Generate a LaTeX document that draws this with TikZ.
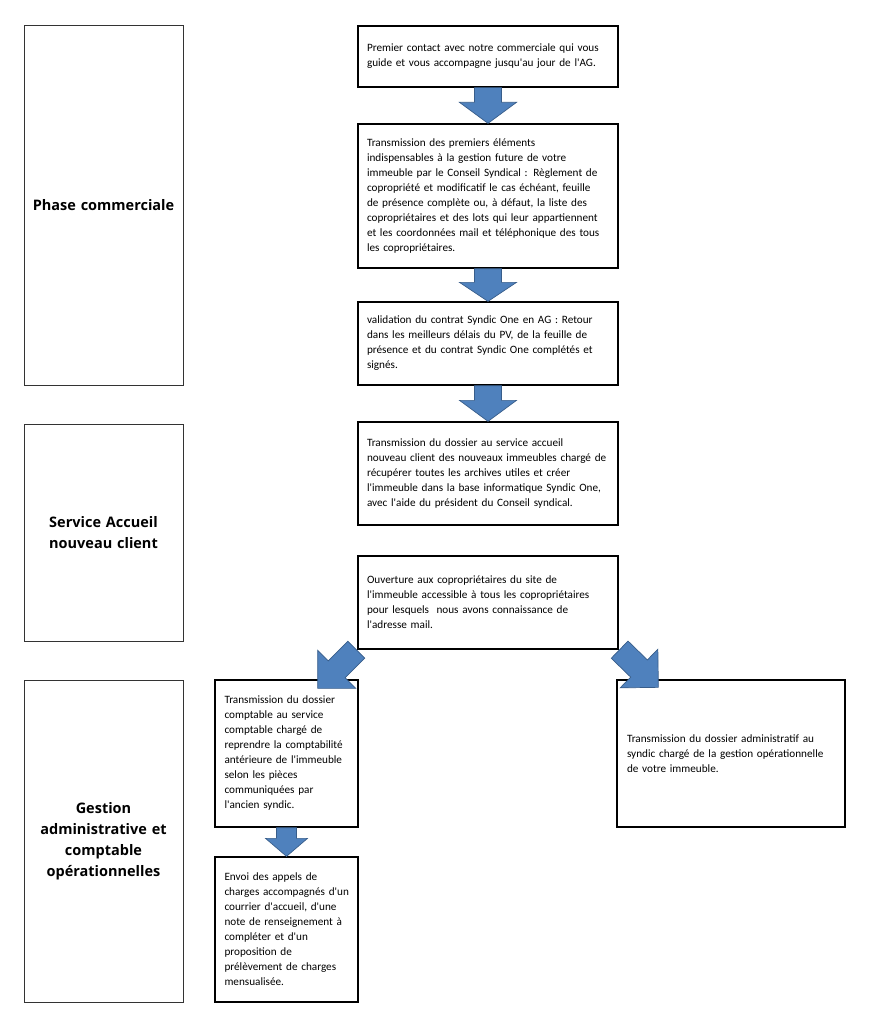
\documentclass[tikz,border=0pt]{standalone}
\usepackage{fontspec}
\setmainfont{Carlito}
\newfontfamily\lanefont{Open Sans}
\usetikzlibrary{calc}
\definecolor{arrfill}{RGB}{79,129,189}
\definecolor{arrline}{RGB}{56,93,138}
\newcommand\ap{\textquotesingle}
\tikzset{
  stepbox/.style={draw=black, line width=1.3pt, fill=white, inner sep=0pt, align=left,
    font=\fontsize{11.2}{15}\selectfont},
  lanebox/.style={draw=black!80, line width=1pt, inner sep=0pt, align=center,
    minimum width=159pt, text width=150pt, font=\lanefont\bfseries\fontsize{14.5}{21}\selectfont},
  blockarrow/.style={fill=arrfill, draw=arrline, line width=0.7pt, line join=miter}
}
% #1 from, #2 to, #3 shaft half width, #4 head half width, #5 head length
\newcommand\barrow[5]{%
  \coordinate (ba-h) at ($(#2)!#5!(#1)$);
  \draw[blockarrow] ($(#1)!#3!90:(#2)$) -- ($(ba-h)!#3!-90:(#1)$) -- ($(ba-h)!#4!-90:(#1)$)
    -- (#2) -- ($(ba-h)!#4!90:(#1)$) -- ($(ba-h)!#3!90:(#1)$) -- ($(#1)!#3!-90:(#2)$) -- cycle;
}
\begin{document}
\begin{tikzpicture}[x=1pt,y=-1pt]
\useasboundingbox (0,0) rectangle (870,1024);
% lanes
\node[lanebox, minimum height=359pt] (l1) at (103.5,205.5) {Phase commerciale};
\node[lanebox, minimum height=217pt] (l2) at (103.5,532.5) {Service Accueil\\nouveau client};
\node[lanebox, minimum height=322pt] (l3) at (103.5,841) {Gestion\\administrative et\\comptable\\opérationnelles};
% steps
\node[stepbox, minimum width=260pt, text width=242pt, minimum height=61pt] (b1) at (488,56.5)
 {Premier contact avec notre commerciale qui vous\\guide et vous accompagne jusqu\ap au jour de l\ap AG.};
\node[stepbox, minimum width=260pt, text width=242pt, minimum height=144pt] (b2) at (488,196)
 {Transmission des premiers éléments\\
  indispensables à la gestion future de votre\\
  immeuble par le Conseil Syndical : Règlement de\\
  copropriété et modificatif le cas échéant, feuille\\
  de présence complète ou, à défaut, la liste des\\
  copropriétaires et des lots qui leur appartiennent\\
  et les coordonnées mail et téléphonique des tous\\
  les copropriétaires.};
\node[stepbox, minimum width=260pt, text width=242pt, minimum height=83pt] (b3) at (488,343.5)
 {validation du contrat Syndic One en AG : Retour\\
  dans les meilleurs délais du PV, de la feuille de\\
  présence et du contrat Syndic One complétés et\\
  signés.};
\node[stepbox, minimum width=260pt, text width=242pt, minimum height=103pt] (b4) at (488,473.5)
 {Transmission du dossier au service accueil\\
  nouveau client des nouveaux immeubles chargé de\\
  récupérer toutes les archives utiles et créer\\
  l\ap immeuble dans la base informatique Syndic One,\\
  avec l\ap aide du président du Conseil syndical.};
\node[stepbox, minimum width=260pt, text width=242pt, minimum height=93pt] (b5) at (488,602.5)
 {Ouverture aux copropriétaires du site de\\
  l\ap immeuble accessible à tous les copropriétaires\\
  pour lesquels~ nous avons connaissance de\\
  l\ap adresse mail.};
\node[stepbox, minimum width=143pt, text width=124pt, minimum height=147pt] (b6) at (286.5,753.5)
 {Transmission du dossier\\
  comptable au service\\
  comptable chargé de\\
  reprendre la comptabilité\\
  antérieure de l\ap immeuble\\
  selon les pièces\\
  communiquées par\\
  l\ap ancien syndic.};
\node[stepbox, minimum width=143pt, text width=124pt, minimum height=145pt] (b7) at (286.5,929.5)
 {Envoi des appels de\\
  \mbox{charges accompagnés d\ap un}\\
  courrier d\ap accueil, d\ap une\\
  note de renseignement à\\
  compléter et d\ap un\\
  proposition de\\
  prélèvement de charges\\
  mensualisée.};
\node[stepbox, minimum width=228pt, text width=208pt, minimum height=147pt] (b8) at (731,753.5)
 {Transmission du dossier administratif au\\
  syndic chargé de la gestion opérationnelle\\
  de votre immeuble.};
% arrows
\barrow{b1.south}{b2.north}{13.5pt}{28.5pt}{21pt}
\barrow{b2.south}{b3.north}{13.5pt}{28.5pt}{19pt}
\barrow{b3.south}{b4.north}{13.5pt}{28.5pt}{21pt}
\barrow{b6.south}{b7.north}{10pt}{21pt}{18pt}
\coordinate (lt) at ($(b5.south west)+(-1,0)$);
\coordinate (lh) at ($(b6.north east)+(-41,9)$);
\coordinate (rt) at ($(b5.south east)+(1,0)$);
\coordinate (rh) at ($(b8.north west)+(42,8)$);
\barrow{lt}{lh}{12pt}{27pt}{27pt}
\barrow{rt}{rh}{12pt}{27pt}{27pt}
\end{tikzpicture}
\end{document}
